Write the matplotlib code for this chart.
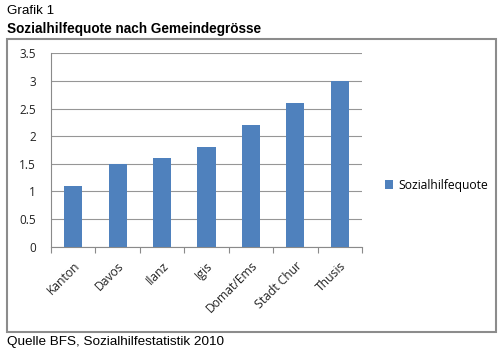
import matplotlib
matplotlib.use("Agg")
import matplotlib.pyplot as plt
from matplotlib.patches import Rectangle

categories = ["Kanton", "Davos", "Ilanz", "Igis", "Domat/Ems", "Stadt Chur", "Thusis"]
values = [1.1, 1.5, 1.6, 1.8, 2.2, 2.6, 3.0]
series_name = "Sozialhilfequote"
yticks = [0, 0.5, 1, 1.5, 2, 2.5, 3, 3.5]

W, H = 500, 353
fig = plt.figure(figsize=(W/100, H/100), dpi=100)
fig.patch.set_facecolor("white")

# outer box
fig.patches.append(Rectangle((7/W, 1 - 332/H), (496-7)/W, (332-39)/H,
                             transform=fig.transFigure, fill=False,
                             edgecolor="#8c8c8c", linewidth=1.5))

fig.text(7/W, 1 - 11/H, "Grafik 1", fontsize=9.6, family="Liberation Sans",
         va="center", ha="left")
fig.text(7/W, 1 - 29/H, "Sozialhilfequote nach Gemeindegrösse", fontsize=9.8,
         family="Liberation Sans", weight="bold", va="center", ha="left")
fig.text(7/W, 1 - 342/H, "Quelle BFS, Sozialhilfestatistik 2010", fontsize=9.7,
         family="Liberation Sans", va="center", ha="left")

left, right, top, bottom = 51, 362, 53.3, 246.7
ax = fig.add_axes([left/W, 1 - bottom/H, (right-left)/W, (bottom-top)/H])
x = range(len(categories))
bars = ax.bar(x, values, width=0.41, color="#4f81bd", label=series_name, zorder=3)
ax.set_xlim(-0.5, len(categories) - 0.5)
ax.set_ylim(0, 3.5)
ax.set_yticks(yticks)
ax.set_yticklabels([f"{t:g}" for t in yticks], fontsize=8.5, family="Open Sans", color="#222222")
ax.yaxis.grid(True, color="#969696", linewidth=0.8, zorder=0)
ax.tick_params(axis="y", length=0, pad=11)
ax.set_xticks([i - 0.5 for i in range(len(categories) + 1)])
ax.set_xticklabels([])
ax.set_xticks(list(x), minor=True)
ax.set_xticklabels(categories, minor=True, rotation=45, ha="right",
                   rotation_mode="anchor", fontsize=8.7, family="Open Sans", color="#222222")
ax.tick_params(axis="x", which="major", length=4, color="#8a8a8a", direction="out")
ax.tick_params(axis="x", which="minor", length=0, pad=9)
for s in ["top", "right"]:
    ax.spines[s].set_visible(False)
ax.spines["left"].set_color("#8a8a8a")
ax.spines["bottom"].set_color("#8a8a8a")

leg = fig.legend(handles=[bars], labels=[series_name], loc="center left",
                 bbox_to_anchor=(374/W, 1 - 185/H), frameon=False,
                 prop={"family": "Open Sans", "size": 8.7},
                 handlelength=0.7, handleheight=0.7, handletextpad=0.4)

fig.savefig("out.png", dpi=100)
